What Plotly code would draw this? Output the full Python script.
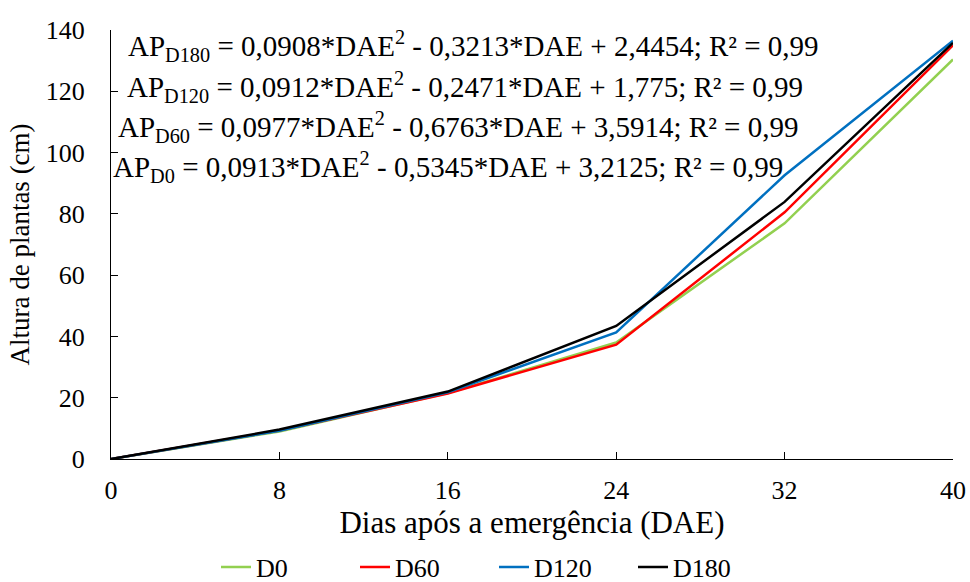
import plotly.graph_objects as go

dae = [0, 8, 16, 24, 32, 40]
series_names = ["D0", "D60", "D120", "D180"]
d0 = [0, 9.0, 21.5, 38.0, 76.9, 130.4]
d60 = [0, 9.3, 21.4, 37.3, 80.5, 135.0]
d120 = [0, 9.2, 21.8, 41.3, 92.6, 136.5]
d180 = [0, 9.6, 22.0, 43.4, 83.9, 135.8]
colors = ["#92D050", "#FF0000", "#0070C0", "#000000"]
equations = [
    "AP<sub>D180</sub> = 0,0908*DAE<sup>2</sup> - 0,3213*DAE + 2,4454; R² = 0,99",
    "AP<sub>D120</sub> = 0,0912*DAE<sup>2</sup> - 0,2471*DAE + 1,775; R² = 0,99",
    "AP<sub>D60</sub> = 0,0977*DAE<sup>2</sup> - 0,6763*DAE + 3,5914; R² = 0,99",
    "AP<sub>D0</sub> = 0,0913*DAE<sup>2</sup> - 0,5345*DAE + 3,2125; R² = 0,99",
]
# page-pixel anchors of the equation labels (left edge, vertical centre)
eq_x = [126, 125, 116, 111]
eq_y = [46, 87, 127, 167]

FONT = "Liberation Serif"
PX0, PX1, PY0, PY1 = 111, 953, 30, 459  # plot area in page pixels
W, H = 970, 582

fig = go.Figure()
for name, ys, c in zip(series_names, [d0, d60, d120, d180], colors):
    fig.add_trace(go.Scatter(x=dae, y=ys, mode="lines", name=name,
                             line=dict(color=c, width=2.5)))

for txt, x, y in zip(equations, eq_x, eq_y):
    fig.add_annotation(text=txt, xref="paper", yref="paper",
                       x=(x - PX0) / (PX1 - PX0), y=(PY1 - y) / (PY1 - PY0),
                       xanchor="left", yanchor="middle", showarrow=False,
                       font=dict(family=FONT, size=29, color="black"))

fig.update_layout(
    width=W, height=H,
    margin=dict(l=PX0, r=W - PX1, t=PY0, b=H - PY1, autoexpand=False),
    paper_bgcolor="white", plot_bgcolor="white",
    font=dict(family=FONT, size=26, color="black"),
    showlegend=True,
    legend=dict(orientation="h", x=(494 - PX0) / (PX1 - PX0), xanchor="center",
                y=(PY1 - 567) / (PY1 - PY0), yanchor="middle",
                font=dict(family=FONT, size=26), itemwidth=30,
                entrywidth=94, traceorder="normal"),
    xaxis=dict(range=[0, 40], tickvals=dae, showline=True, linecolor="black",
               linewidth=1.2, ticks="inside", ticklen=7, tickcolor="black",
               showgrid=False, zeroline=False, automargin=False,
               ticklabelstandoff=8,
               tickfont=dict(family=FONT, size=26),
               title=dict(text="Dias após a emergência (DAE)", standoff=5,
                          font=dict(family=FONT, size=31))),
    yaxis=dict(range=[0, 140], dtick=20, showline=True, linecolor="black",
               linewidth=1.2, ticks="inside", ticklen=7, tickcolor="black",
               showgrid=False, zeroline=False, automargin=False,
               ticklabelstandoff=20,
               tickfont=dict(family=FONT, size=26),
               title=dict(text="Altura de plantas (cm)", standoff=8,
                          font=dict(family=FONT, size=27))),
)
fig.write_html("out.html", config={"displayModeBar": False},
               post_script="document.body.style.margin='0';document.body.style.overflow='hidden';")
